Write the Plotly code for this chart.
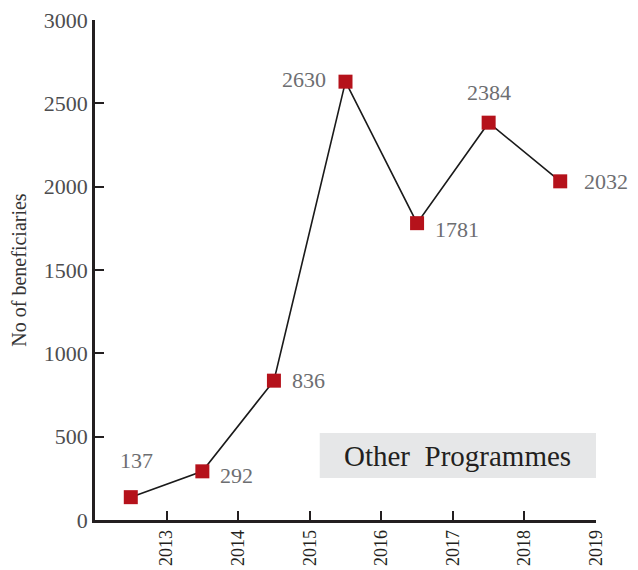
import plotly.graph_objects as go

years = [2012.5, 2013.5, 2014.5, 2015.5, 2016.5, 2017.5, 2018.5]
beneficiaries = [137, 292, 836, 2630, 1781, 2384, 2032]
tick_years = [2013, 2014, 2015, 2016, 2017, 2018, 2019]
tick_labels = [str(y) for y in tick_years]
y_ticks = [0, 500, 1000, 1500, 2000, 2500, 3000]
legend_label = "Other  Programmes"
y_title = "No of beneficiaries"

# label placement per point: (xanchor, yanchor, xshift, yshift)
label_pos = [
    ("center", "bottom", 6, 22),
    ("left", "middle", 16, -4),
    ("left", "middle", 16, 0),
    ("right", "middle", -18, 2),
    ("left", "middle", 16, -6),
    ("center", "bottom", 0, 16),
    ("left", "middle", 22, 0),
]

serif = "Liberation Serif, DejaVu Serif, serif"

fig = go.Figure()
fig.add_trace(go.Scatter(
    x=years, y=beneficiaries, mode="lines+markers",
    line=dict(color="#1a1a1a", width=1.6),
    marker=dict(symbol="square", size=14, color="#B5121B"),
    hoverinfo="skip", showlegend=False,
))

annotations = []
for x, y, (xa, ya, xs, ys) in zip(years, beneficiaries, label_pos):
    annotations.append(dict(
        x=x, y=y, xref="x", yref="y", text=str(y), showarrow=False,
        xanchor=xa, yanchor=ya, xshift=xs, yshift=ys,
        font=dict(family=serif, size=22, color="#6d6e71"),
    ))

annotations.append(dict(
    x=2017.07, y=387, xref="x", yref="y", text=legend_label, showarrow=False,
    xanchor="center", yanchor="middle",
    font=dict(family=serif, size=29, color="#231f20"),
))

fig.update_layout(
    width=638, height=570,
    margin=dict(l=87, r=50, t=12, b=58),
    plot_bgcolor="white", paper_bgcolor="white",
    shapes=[dict(type="rect", xref="x", yref="y", x0=2015.14, x1=2019,
                 y0=252, y1=522, fillcolor="#e6e7e8", line=dict(width=0), layer="below")],
    annotations=annotations,
    xaxis=dict(
        range=[2012, 2019], tickvals=tick_years, ticktext=tick_labels,
        tickangle=-90, ticks="inside", ticklen=9, tickwidth=2, tickcolor="#231f20",
        showline=True, linecolor="#231f20", linewidth=2.5, showgrid=False,
        zeroline=False, automargin=False, ticklabeloverflow="allow",
        tickfont=dict(family=serif, size=18, color="#231f20"),
    ),
    yaxis=dict(
        range=[0, 3000], tickvals=y_ticks, ticks="inside", ticklen=9, tickwidth=2,
        tickcolor="#231f20", showline=True, linecolor="#231f20", linewidth=2.5,
        showgrid=False, zeroline=False, automargin=False, ticklabeloverflow="allow",
        tickfont=dict(family=serif, size=22, color="#4d4d4f"),
        title=dict(text=y_title, font=dict(family=serif, size=20, color="#333333"), standoff=14),
    ),
)

fig.write_html("out.html")
